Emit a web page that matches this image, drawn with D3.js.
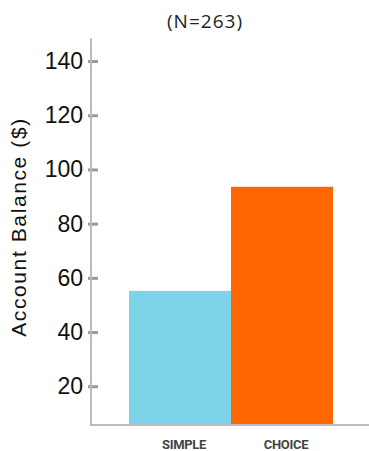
<!DOCTYPE html>
<html>
<head>
<meta charset="utf-8">
<script src="https://cdn.jsdelivr.net/npm/d3@7"></script>
<style>
  html, body { margin: 0; padding: 0; background: #fff; }
  svg { display: block; }
</style>
</head>
<body>
<div id="chart"></div>
<script>
const categories = ["SIMPLE", "CHOICE"];
const values = [55.2, 93.6];
const colors = ["#7DD3E8", "#FF6600"];
const yTicks = [20, 40, 60, 80, 100, 120, 140];
const title = "(N=263)";
const yLabel = "Account Balance ($)";

const W = 369, H = 451;
const svg = d3.select("#chart").append("svg").attr("width", W).attr("height", H);

const axisX = 91;
const y = d3.scaleLinear().domain([5.7, 148.4]).range([425, 38.3]);
const x = d3.scaleBand().domain(categories).range([129, 333]).padding(0);

// bars
svg.selectAll("rect.bar").data(categories).enter().append("rect")
  .attr("class", "bar")
  .attr("x", d => x(d))
  .attr("width", x.bandwidth())
  .attr("y", (d, i) => y(values[i]))
  .attr("height", (d, i) => y.range()[0] - y(values[i]))
  .attr("fill", (d, i) => colors[i]);

// y axis
const yAxis = svg.append("g").attr("transform", `translate(${axisX},0)`)
  .call(d3.axisLeft(y).tickValues(yTicks).tickSize(0).tickPadding(8).tickFormat(d3.format("d")));
yAxis.select(".domain").remove();
yAxis.append("line").attr("x1", 0).attr("x2", 0).attr("y1", y.range()[1]).attr("y2", y.range()[0] + 1)
  .attr("stroke", "#bbb").attr("stroke-width", 2);
yAxis.selectAll(".tick").append("line").attr("x1", -3).attr("x2", 7).attr("y1", 0).attr("y2", 0)
  .attr("stroke", "#999").attr("stroke-width", 3);
yAxis.selectAll(".tick text")
  .attr("font-family", "'Liberation Sans', Arial, sans-serif").attr("font-size", 23).attr("fill", "#111");

// x axis
const xAxis = svg.append("g").attr("transform", `translate(0,${y.range()[0]})`)
  .call(d3.axisBottom(x).tickSize(0).tickPadding(15));
xAxis.select(".domain").remove();
xAxis.append("line").attr("x1", axisX - 1).attr("x2", W).attr("y1", 0).attr("y2", 0)
  .attr("stroke", "#bbb").attr("stroke-width", 2);
xAxis.selectAll(".tick text")
  .attr("dx", 4)
  .attr("font-family", "Roboto, sans-serif").attr("font-weight", "bold")
  .attr("font-size", 13).attr("fill", "#444").attr("letter-spacing", -0.3);

// title
svg.append("text").attr("x", 205).attr("y", 28).attr("text-anchor", "middle")
  .attr("font-family", "'Open Sans', sans-serif").attr("font-size", 19).attr("fill", "#222")
  .attr("letter-spacing", 1)
  .text(title);

// y label
svg.append("text").attr("transform", `translate(26,227) rotate(-90)`).attr("text-anchor", "middle")
  .attr("font-family", "'Liberation Sans', Arial, sans-serif").attr("font-size", 21).attr("fill", "#111")
  .attr("letter-spacing", 1.6)
  .text(yLabel);
</script>
</body>
</html>
